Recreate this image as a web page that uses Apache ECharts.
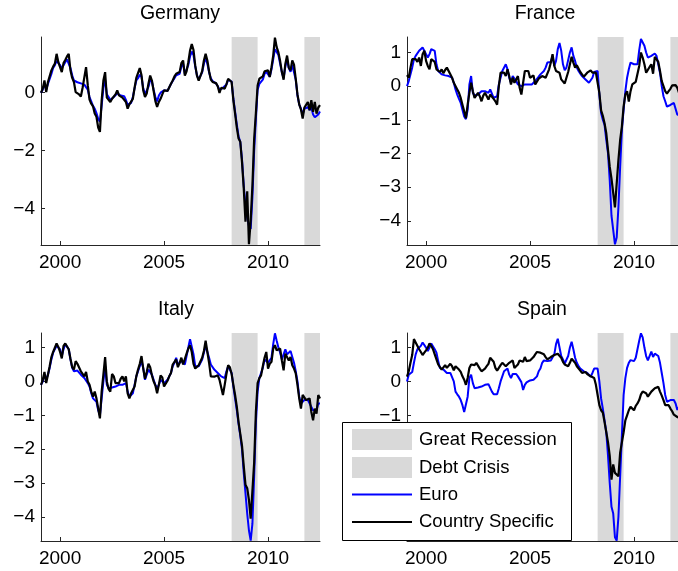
<!DOCTYPE html>
<html><head><meta charset="utf-8">
<script src="https://cdn.jsdelivr.net/npm/echarts@6/dist/echarts.min.js"></script>
<style>html,body{margin:0;padding:0;background:#fff}#chart{width:678px;height:571px}</style>
</head><body><div id="chart"></div>
<script>
// Monthly observations, first month Feb 1999 (decimal year)
const startYear = 1999 + 1 / 12;
const panelNames = ['Germany', 'France', 'Italy', 'Spain'];
const xTickYears = [2000, 2005, 2010];
const germanyYTicks = [-4, -2, 0];
const otherYTicks = [-4, -3, -2, -1, 0, 1];
const greatRecession = [2008.25, 2009.5];
const debtCrisis = [2011.75, 2012.5];
const legendLabels = ['Great Recession', 'Debt Crisis', 'Euro', 'Country Specific'];

const germanyEuro = [
 0.0, 0.1, 0.3, 0.1, 0.3, 0.35, 0.65, 0.85, 0.95, 1.1, 1.05, 0.95,
 0.85, 0.95, 1.05, 1.15, 1.2, 0.85, 0.6, 0.42, 0.38, 0.36, 0.35, 0.32,
 0.3, 0.28, 0.3, 0.1, -0.15, -0.3, -0.45, -0.55, -0.7, -0.9, -1.0, -0.45,
 0.15, 0.45, -0.05, -0.15, -0.25, -0.2, -0.15, -0.1, -0.02, -0.05, -0.1, -0.12,
 -0.12, -0.25, -0.42, -0.38, -0.35, -0.15, 0.15, 0.42, 0.5, 0.62, 0.55, 0.15,
 -0.05, 0.0, 0.2, 0.45, 0.38, 0.1, -0.15, -0.3, -0.1, 0.0, 0.05, 0.08,
 0.05, 0.07, 0.1, 0.3, 0.4, 0.5, 0.6, 0.6, 0.65, 0.9, 1.0, 0.65,
 0.7, 0.95, 1.25, 1.42, 1.3, 0.9, 0.6, 0.45, 0.42, 0.7, 1.0, 1.2,
 1.0, 0.7, 0.5, 0.4, 0.4, 0.32, 0.22, 0.1, 0.15, 0.17, 0.15, 0.28,
 0.45, 0.5, 0.38, -0.2, -0.65, -1.1, -1.5, -1.7, -2.3, -3.2, -3.9, -4.3,
 -4.6, -4.7, -3.6, -2.0, -0.9, 0.1, 0.3, 0.35, 0.45, 0.65, 0.72, 0.72,
 0.55, 0.8, 1.15, 1.5, 1.4, 1.3, 1.0, 0.7, 0.5, 0.9, 1.15, 0.85,
 0.72, 0.95, 0.9, 0.45, -0.1, -0.4, -0.55, -0.75, -0.55, -0.5, -0.5, -0.6,
 -0.5, -0.75, -0.85, -0.88, -0.75, -0.65];
const germanyCountry = [
 0.0, 0.14, 0.42, 0.02, 0.37, 0.31, 0.77, 0.9, 1.0, 1.34, 1.05, 0.88,
 0.71, 1.02, 1.13, 1.25, 1.34, 0.77, 0.51, 0.37, 0.02, -0.03, -0.06, -0.13,
 0.17, 0.22, 0.88, 0.25, -0.24, -0.38, -0.47, -0.72, -0.83, -1.2, -1.35, -0.26,
 0.42, 0.71, -0.17, -0.15, -0.32, -0.21, -0.15, -0.06, 0.08, -0.09, -0.13, -0.17,
 -0.13, -0.32, -0.55, -0.4, -0.38, -0.21, 0.17, 0.51, 0.54, 0.85, 0.6, 0.08,
 -0.15, -0.03, 0.31, 0.59, 0.42, 0.06, -0.29, -0.49, -0.32, -0.21, -0.06, 0.08,
 0.02, 0.06, 0.06, 0.31, 0.42, 0.56, 0.65, 0.59, 0.71, 1.02, 1.11, 0.59,
 0.74, 1.05, 1.45, 1.68, 1.47, 0.94, 0.59, 0.42, 0.4, 0.74, 1.11, 1.34,
 1.11, 0.74, 0.45, 0.37, 0.42, 0.33, 0.22, -0.01, 0.17, 0.19, 0.14, 0.29,
 0.48, 0.54, 0.37, -0.26, -0.72, -1.2, -1.58, -1.69, -2.4, -3.3, -4.45, -3.4,
 -5.22, -4.4, -3.2, -1.6, -0.7, 0.25, 0.48, 0.42, 0.56, 0.74, 0.77, 0.77,
 0.54, 0.88, 1.28, 1.9, 1.57, 1.39, 1.09, 0.71, 0.45, 0.99, 1.28, 0.86,
 0.77, 1.11, 0.97, 0.48, -0.06, -0.4, -0.58, -0.89, -0.51, -0.47, -0.32, -0.61,
 -0.26, -0.66, -0.32, -0.72, -0.51, -0.43];

const franceEuro = [
 0.0, 0.15, 0.2, 0.55, 0.8, 0.9, 0.95, 1.05, 1.1, 1.15, 1.12, 0.95,
 0.85, 0.95, 1.1, 1.1, 1.05, 0.65, 0.45, 0.4, 0.35, 0.33, 0.32, 0.3,
 0.3, 0.28, 0.25, 0.1, -0.1, -0.25, -0.38, -0.5, -0.7, -0.9, -0.98, -0.7,
 0.05, 0.3, -0.2, -0.28, -0.3, -0.25, -0.22, -0.15, -0.13, -0.15, -0.12, -0.2,
 -0.1, -0.15, -0.35, -0.4, -0.3, 0.05, 0.25, 0.45, 0.5, 0.65, 0.5, 0.25,
 0.1, 0.3, 0.25, 0.15, 0.05, 0.0, 0.0, 0.05, 0.05, 0.02, 0.05, 0.08,
 0.05, 0.1, 0.15, 0.2, 0.28, 0.35, 0.38, 0.45, 0.55, 0.7, 0.75, 0.72,
 0.9, 0.6, 0.75, 1.1, 1.28, 1.05, 0.65, 0.47, 0.55, 0.6, 1.0, 1.15,
 0.9, 0.75, 0.55, 0.45, 0.37, 0.3, 0.25, 0.2, 0.15, 0.1, 0.08, 0.25,
 0.42, 0.47, 0.45, -0.25, -0.8, -1.0, -1.15, -1.6, -2.0, -2.8, -3.85, -3.9,
 -4.7, -4.5, -3.6, -2.4, -1.3, -0.7, -0.15, 0.25, 0.5, 0.7, 0.7, 0.65,
 0.62, 0.65, 1.07, 1.4, 1.45, 1.2, 1.0, 0.85, 0.87, 0.9, 0.95, 0.97,
 0.9, 0.65, 0.4, 0.0, -0.3, -0.45, -0.61, -0.6, -0.56, -0.52, -0.5, -0.55,
 -0.85, -0.8, -0.85, -0.9, -0.85, -0.9];
const franceCountry = [
 0.33, 0.25, 0.55, 0.8, 0.78, 0.8, 0.72, 0.85, 0.6, 0.95, 1.05, 0.75,
 0.6, 0.5, 0.8, 0.8, 0.72, 0.5, 0.55, 0.42, 0.5, 0.38, 0.48, 0.55,
 0.5, 0.35, 0.25, 0.1, 0.05, -0.1, -0.2, -0.35, -0.55, -0.75, -0.95, -0.55,
 -0.2, 0.1, -0.15, -0.35, -0.3, -0.2, -0.3, -0.45, -0.28, -0.2, -0.25, -0.4,
 -0.25, -0.3, -0.38, -0.45, -0.55, 0.0, 0.4, 0.45, 0.4, 0.3, 0.5, 0.3,
 0.05, 0.25, 0.1, 0.15, 0.3, -0.05, -0.25, 0.1, 0.45, 0.4, 0.45, 0.25,
 0.3, 0.32, 0.05, 0.1, 0.22, 0.25, 0.3, 0.28, 0.25, 0.22, 0.5, 0.7,
 0.95, 0.6, 0.45, 0.42, 0.4, 0.2, 0.15, 0.08, 0.25, 0.42, 0.65, 0.87,
 0.7, 0.55, 0.62, 0.6, 0.42, 0.35, 0.28, 0.3, 0.4, 0.45, 0.47, 0.4,
 0.42, 0.4, 0.45, -0.2, -0.72, -0.88, -1.1, -1.4, -1.9, -2.4, -2.75, -2.7,
 -3.6, -2.9, -2.2, -1.6, -1.2, -0.6, -0.25, -0.15, -0.46, -0.15, 0.05, 0.1,
 0.13, 0.15, 0.6, 1.0, 0.85, 0.65, 0.4, 0.35, 0.57, 0.65, 0.37, 0.87,
 0.9, 0.72, 0.45, 0.15, 0.0, -0.15, -0.22, -0.15, -0.08, 0.02, 0.05, 0.03,
 -0.05, -0.2, -0.3, -0.35, -0.3, -0.35];

const italyEuro = [
 -0.1, 0.0, 0.2, 0.05, 0.2, 0.4, 0.65, 0.85, 0.85, 1.05, 1.1, 0.95,
 0.75, 0.95, 1.1, 1.05, 0.95, 0.65, 0.4, 0.3, 0.35, 0.32, 0.3, 0.2,
 0.18, 0.1, 0.15, -0.05, -0.15, -0.35, -0.5, -0.45, -0.6, -0.85, -1.0, -0.5,
 0.0, 0.45, -0.1, -0.2, -0.2, -0.18, -0.15, -0.15, -0.12, -0.1, -0.08, -0.1,
 -0.12, -0.05, -0.3, -0.45, -0.4, -0.35, -0.1, 0.15, 0.3, 0.45, 0.6, 0.4,
 0.05, 0.1, 0.35, 0.38, 0.2, 0.05, -0.1, -0.2, -0.1, 0.05, 0.05, -0.05,
 -0.05, 0.05, 0.15, 0.25, 0.45, 0.55, 0.7, 0.5, 0.55, 0.6, 0.55, 0.5,
 0.75, 1.0, 1.25, 1.2, 0.8, 0.45, 0.4, 0.45, 0.5, 0.65, 0.85, 1.05,
 1.0, 0.7, 0.5, 0.45, 0.35, 0.3, 0.25, 0.2, 0.15, 0.1, 0.1, 0.3,
 0.45, 0.42, 0.25, -0.15, -0.5, -0.85, -1.25, -1.6, -2.0, -2.7, -3.3, -3.9,
 -4.4, -4.7, -4.2, -2.8, -1.2, -0.3, 0.1, 0.15, 0.4, 0.65, 0.7, 0.55,
 0.6, 0.7, 1.1, 1.42, 1.2, 1.0, 0.85, 0.65, 0.6, 0.95, 0.8, 0.85,
 0.9, 0.85, 0.55, 0.3, 0.0, -0.45, -0.65, -0.6, -0.55, -0.6, -0.55, -0.55,
 -0.75, -0.85, -0.8, -0.85, -0.65, -0.65];
const italyCountry = [
 -0.1, 0.04, 0.28, -0.05, 0.2, 0.45, 0.72, 0.87, 0.82, 1.12, 1.02, 0.87,
 0.68, 1.05, 1.12, 1.07, 0.95, 0.67, 0.42, 0.35, 0.6, 0.52, 0.48, 0.3,
 0.3, 0.15, 0.28, 0.0, -0.1, -0.3, -0.45, -0.3, -0.5, -0.8, -1.09, -0.3,
 0.2, 0.72, 0.0, -0.22, -0.3, 0.22, 0.15, -0.05, -0.1, -0.05, 0.08, 0.15,
 0.0, 0.15, -0.35, -0.5, -0.35, -0.4, -0.15, 0.15, 0.35, 0.52, 0.75, 0.38,
 0.08, 0.28, 0.52, 0.42, 0.18, 0.0, -0.12, -0.35, -0.1, 0.18, 0.12, -0.15,
 -0.1, 0.02, 0.15, 0.25, 0.5, 0.52, 0.65, 0.42, 0.55, 0.7, 0.5, 0.52,
 0.82, 0.97, 1.07, 0.87, 0.52, 0.38, 0.42, 0.48, 0.52, 0.7, 0.9, 1.2,
 0.87, 0.55, 0.15, 0.12, 0.14, 0.12, 0.18, 0.05, 0.04, -0.4, -0.1, 0.22,
 0.48, 0.42, 0.22, -0.1, -0.4, -0.75, -1.2, -1.55, -1.9, -2.5, -3.05, -3.15,
 -3.5, -4.05, -4.05, -2.4, -0.9, -0.05, 0.1, 0.18, 0.45, 0.7, 0.87, 0.38,
 0.52, 0.58, 0.97, 1.07, 0.92, 0.87, 0.97, 0.62, 0.33, 0.82, 0.87, 0.62,
 0.72, 0.48, 0.38, 0.24, -0.1, -0.5, -0.8, -0.4, -0.4, -0.55, -0.55, -0.5,
 -0.9, -1.15, -0.8, -0.95, -0.4, -0.5];

const spainEuro = [
 0.0, 0.2, 0.25, 0.28, 0.55, 0.8, 0.95, 1.0, 1.05, 1.15, 1.1, 1.0,
 0.9, 1.0, 1.12, 1.1, 0.95, 0.85, 0.6, 0.4, 0.38, 0.35, 0.3, 0.25,
 0.25, 0.25, 0.28, 0.0, -0.3, -0.38, -0.45, -0.55, -0.7, -0.9, -0.95, -0.45,
 0.1, 0.2, -0.05, -0.2, -0.2, -0.18, -0.15, -0.15, -0.12, -0.1, -0.08, -0.08,
 -0.1, -0.3, -0.38, -0.4, -0.38, -0.2, 0.0, 0.15, 0.3, 0.35, 0.38, 0.2,
 0.1, 0.22, 0.2, 0.22, 0.15, 0.12, -0.02, -0.25, -0.1, -0.03, 0.02, 0.03,
 0.04, 0.05, 0.08, 0.15, 0.3, 0.38, 0.55, 0.62, 0.63, 0.6, 0.58, 0.62,
 0.62, 0.8, 1.1, 1.26, 1.22, 0.75, 0.65, 0.53, 0.55, 0.75, 1.0, 1.17,
 0.95, 0.7, 0.55, 0.45, 0.38, 0.33, 0.3, 0.28, 0.25, 0.2, 0.14, 0.25,
 0.38, 0.43, 0.38, 0.0, -0.5, -0.8, -1.15, -1.5, -2.2, -3.0, -3.7, -3.9,
 -4.6, -4.7, -4.0, -2.8, -1.6, -0.4, 0.1, 0.4, 0.55, 0.63, 0.6, 0.6,
 0.7, 0.95, 1.2, 1.42, 1.3, 1.0, 0.75, 0.62, 0.65, 0.88, 0.72, 0.82,
 0.87, 0.75, 0.55, 0.25, -0.05, -0.4, -0.6, -0.58, -0.55, -0.52, -0.55, -0.65,
 -0.84, -0.75, -0.8, -0.85, -0.8, -0.85];
const spainCountry = [
 0.14, 0.3, 0.55, 0.78, 1.25, 1.15, 1.1, 0.95, 0.87, 0.78, 0.85, 0.92,
 1.0, 1.12, 1.05, 0.95, 0.8, 0.65, 0.5, 0.45, 0.35, 0.3, 0.48, 0.4,
 0.38, 0.52, 0.45, 0.33, 0.45, 0.5, 0.35, 0.28, 0.15, 0.05, -0.1, 0.1,
 0.4, 0.5, 0.52, 0.48, 0.55, 0.5, 0.38, 0.3, 0.28, 0.38, 0.45, 0.52,
 0.7, 0.68, 0.58, 0.4, 0.32, 0.3, 0.48, 0.55, 0.55, 0.45, 0.42, 0.55,
 0.58, 0.62, 0.4, 0.45, 0.5, 0.62, 0.6, 0.58, 0.72, 0.6, 0.58, 0.62,
 0.65, 0.72, 0.8, 0.87, 0.88, 0.85, 0.9, 0.8, 0.72, 0.65, 0.68, 0.72,
 0.75, 0.78, 0.8, 0.82, 0.8, 0.7, 0.58, 0.5, 0.45, 0.45, 0.55, 0.67,
 0.62, 0.55, 0.45, 0.4, 0.32, 0.25, 0.27, 0.28, 0.22, 0.18, 0.15, 0.14,
 0.1, -0.1, -0.4, -0.7, -0.85, -0.92, -1.2, -1.5, -1.8, -2.2, -2.9, -2.45,
 -2.7, -2.75, -2.8, -2.1, -1.8, -1.5, -1.15, -1.0, -0.85, -0.75, -0.78, -0.85,
 -0.72, -0.65, -0.55, -0.38, -0.3, -0.25, -0.35, -0.45, -0.5, -0.3, -0.25, -0.2,
 -0.18, -0.16, -0.3, -0.42, -0.55, -0.7, -0.75, -0.7, -0.8, -0.88, -0.98, -1.02,
 -1.05, -1.08, -1.1, -1.1, -1.12, -1.1];

const euroSeries = [germanyEuro, franceEuro, italyEuro, spainEuro];
const countrySeries = [germanyCountry, franceCountry, italyCountry, spainCountry];
const yMin = [-5.25, -4.72, -4.71, -4.71];
const yMax = [1.92, 1.46, 1.43, 1.43];
const yTicks = [germanyYTicks, otherYTicks, otherYTicks, otherYTicks];

// ---- layout / style ----
const FONT = '"Liberation Sans", Arial, Helvetica, sans-serif';
const gridBoxes = [
  {left: 41, top: 37}, {left: 407, top: 37},
  {left: 41, top: 333}, {left: 407, top: 333}
];
const titlePos = [[180, 14], [545, 14], [176, 310], [542, 310]];
const xMin = startYear, xMax = 2012.5;
const shade = '#d9d9d9';
const axisCol = '#262626';
const minus = v => (v < 0 ? '\u2212' + Math.abs(v) : String(v));

const toPairs = arr => arr.map((v, i) => [startYear + i / 12, v]);

const grid = [], xAxis = [], yAxis = [], series = [];
panelNames.forEach((name, k) => {
  grid.push({left: gridBoxes[k].left, top: gridBoxes[k].top, width: 279, height: 208,
    containLabel: false, outerBoundsMode: 'none'});
  xAxis.push({type: 'value', gridIndex: k, min: xMin, max: xMax,
    axisLine: {show: true, onZero: false, lineStyle: {color: axisCol, width: 1}},
    axisTick: {show: true, inside: true, length: 4, customValues: xTickYears, lineStyle: {color: axisCol}},
    axisLabel: {customValues: xTickYears, fontSize: 19, fontFamily: FONT, color: '#000', margin: 8,
      formatter: v => String(Math.round(v))},
    splitLine: {show: false}});
  yAxis.push({type: 'value', gridIndex: k, min: yMin[k], max: yMax[k],
    axisLine: {show: true, onZero: false, lineStyle: {color: axisCol, width: 1}},
    axisTick: {show: true, inside: true, length: 4, customValues: yTicks[k], lineStyle: {color: axisCol}},
    axisLabel: {customValues: yTicks[k], fontSize: 19, fontFamily: FONT, color: '#000', margin: 6,
      formatter: minus},
    splitLine: {show: false}});
  series.push({name: legendLabels[0], type: 'line', xAxisIndex: k, yAxisIndex: k, data: [], z: 1,
    markArea: {silent: true, itemStyle: {color: shade}, data: [
      [{xAxis: greatRecession[0]}, {xAxis: greatRecession[1]}],
      [{xAxis: debtCrisis[0]}, {xAxis: debtCrisis[1]}]
    ]}});
  series.push({name: legendLabels[2], type: 'line', xAxisIndex: k, yAxisIndex: k,
    data: toPairs(euroSeries[k]), showSymbol: false, symbol: 'none', z: 3,
    lineStyle: {color: '#0000ff', width: 2}, itemStyle: {color: '#0000ff'}});
  series.push({name: legendLabels[3], type: 'line', xAxisIndex: k, yAxisIndex: k,
    data: toPairs(countrySeries[k]), showSymbol: false, symbol: 'none', z: 4,
    lineStyle: {color: '#000000', width: 2.2}, itemStyle: {color: '#000'}});
});

const graphic = [];
panelNames.forEach((name, k) => {
  graphic.push({type: 'text', x: titlePos[k][0], y: titlePos[k][1], z: 50,
    style: {text: name, fontSize: 19.5, fontFamily: FONT, fill: '#000',
      align: 'center', verticalAlign: 'middle', textAlign: 'center', textVerticalAlign: 'middle'}});
});
// legend box
const lg = {x: 342, y: 422, w: 229, h: 118};
graphic.push({type: 'rect', z: 100, shape: {x: lg.x + 0.5, y: lg.y + 0.5, width: lg.w, height: lg.h},
  style: {fill: '#fff', stroke: '#000', lineWidth: 1}});
const rowY = [440, 467.5, 494.5, 522];
graphic.push({type: 'rect', z: 101, shape: {x: 352, y: 429, width: 60, height: 21}, style: {fill: shade}});
graphic.push({type: 'rect', z: 101, shape: {x: 352, y: 457, width: 60, height: 21}, style: {fill: shade}});
graphic.push({type: 'line', z: 101, shape: {x1: 352, y1: rowY[2], x2: 412, y2: rowY[2]}, style: {stroke: '#0000ff', lineWidth: 2}});
graphic.push({type: 'line', z: 101, shape: {x1: 352, y1: rowY[3], x2: 412, y2: rowY[3]}, style: {stroke: '#000', lineWidth: 2}});
legendLabels.forEach((t, i) => {
  graphic.push({type: 'text', z: 101, x: 419, y: rowY[i],
    style: {text: t, fontSize: 18.5, fontFamily: FONT, fill: '#000',
      align: 'left', verticalAlign: 'middle', textAlign: 'left', textVerticalAlign: 'middle'}});
});

const chart = echarts.init(document.getElementById('chart'), null, {renderer: 'canvas'});
chart.setOption({
  animation: false,
  backgroundColor: '#fff',
  textStyle: {fontFamily: FONT},
  grid, xAxis, yAxis, series, graphic
});
</script></body></html>
